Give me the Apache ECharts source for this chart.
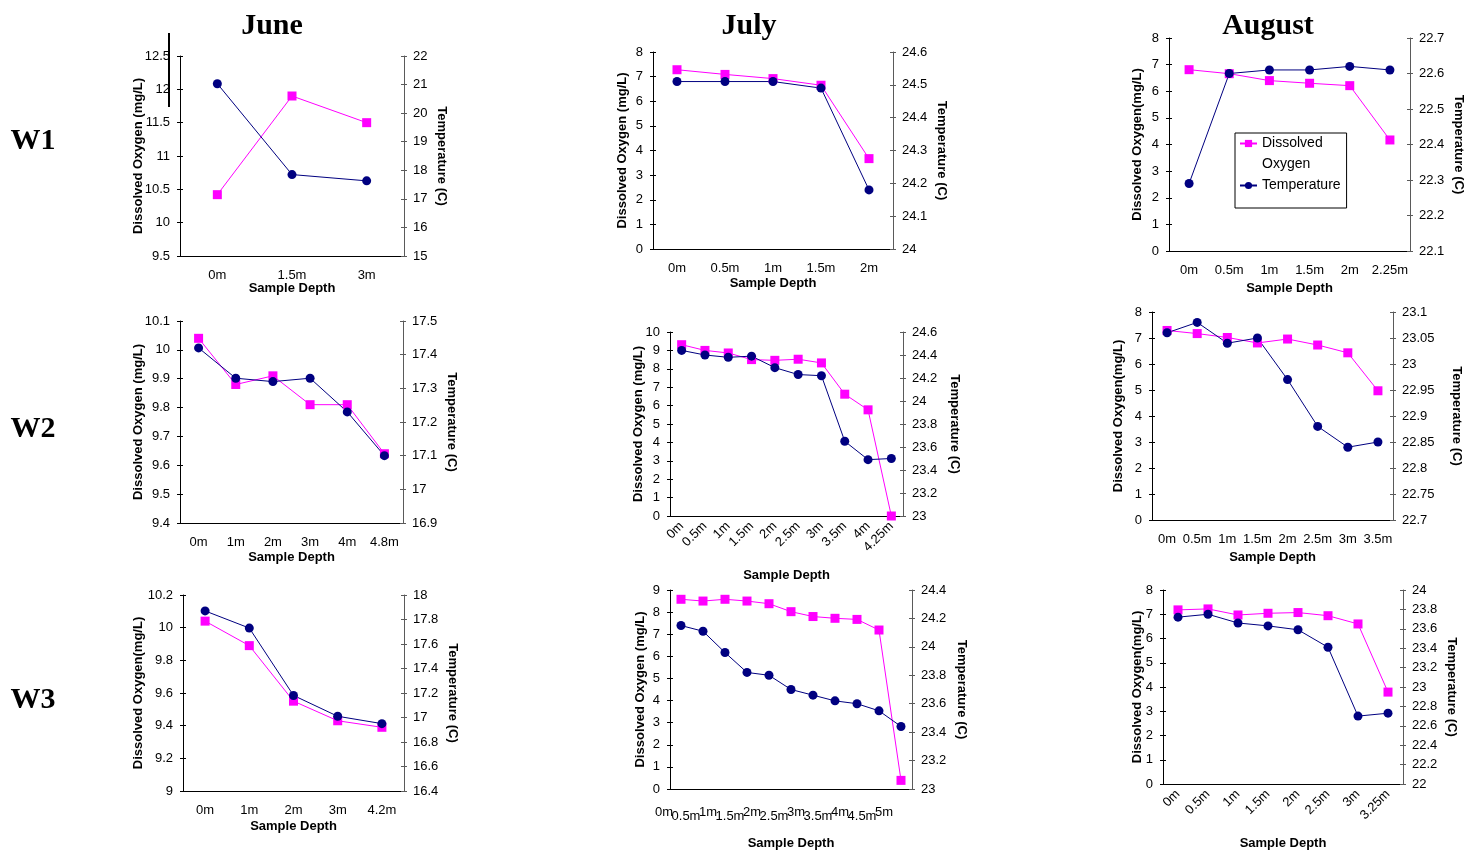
<!DOCTYPE html>
<html>
<head>
<meta charset="utf-8">
<script src="https://cdn.jsdelivr.net/npm/echarts/dist/echarts.min.js"></script>
<style>
  html, body { margin: 0; padding: 0; background: #fff; }
  #main { width: 1468px; height: 852px; }
</style>
</head>
<body>
<div id="main"></div>
<script>
// ---- June ----
const juneW1Depth = ['0m', '1.5m', '3m'];
const juneW1DO = [10.42, 11.9, 11.5];
const juneW1Temp = [21.03, 17.85, 17.63];
const juneW2Depth = ['0m', '1m', '2m', '3m', '4m', '4.8m'];
const juneW2DO = [10.04, 9.88, 9.91, 9.81, 9.81, 9.64];
const juneW2Temp = [17.42, 17.33, 17.32, 17.33, 17.23, 17.1];
const juneW3Depth = ['0m', '1m', '2m', '3m', '4.2m'];
const juneW3DO = [10.04, 9.89, 9.55, 9.43, 9.39];
const juneW3Temp = [17.87, 17.73, 17.18, 17.01, 16.95];

// ---- July ----
const julyW1Depth = ['0m', '0.5m', '1m', '1.5m', '2m'];
const julyW1DO = [7.28, 7.09, 6.92, 6.65, 3.67];
const julyW1Temp = [24.51, 24.51, 24.51, 24.49, 24.18];
const julyW2Depth = ['0m', '0.5m', '1m', '1.5m', '2m', '2.5m', '3m', '3.5m', '4m', '4.25m'];
const julyW2DO = [9.31, 9.0, 8.86, 8.5, 8.46, 8.52, 8.32, 6.62, 5.77, 0];
const julyW2Temp = [24.44, 24.40, 24.38, 24.39, 24.29, 24.23, 24.22, 23.65, 23.49, 23.50];
const julyW3Depth = ['0m', '0.5m', '1m', '1.5m', '2m', '2.5m', '3m', '3.5m', '4m', '4.5m', '5m'];
const julyW3DO = [8.58, 8.5, 8.58, 8.5, 8.38, 8.02, 7.8, 7.72, 7.67, 7.19, 0.39];
const julyW3Temp = [24.15, 24.11, 23.96, 23.82, 23.8, 23.7, 23.66, 23.62, 23.6, 23.55, 23.44];

// ---- August ----
const augW1Depth = ['0m', '0.5m', '1m', '1.5m', '2m', '2.25m'];
const augW1DO = [6.81, 6.66, 6.4, 6.3, 6.21, 4.17];
const augW1Temp = [22.29, 22.6, 22.61, 22.61, 22.62, 22.61];
const augW2Depth = ['0m', '0.5m', '1m', '1.5m', '2m', '2.5m', '3m', '3.5m'];
const augW2DO = [7.29, 7.17, 7.02, 6.81, 6.96, 6.73, 6.43, 4.97];
const augW2Temp = [23.06, 23.08, 23.04, 23.05, 22.97, 22.88, 22.84, 22.85];
const augW3Depth = ['0m', '0.5m', '1m', '1.5m', '2m', '2.5m', '3m', '3.25m'];
const augW3DO = [7.18, 7.22, 6.97, 7.04, 7.07, 6.94, 6.6, 3.79];
const augW3Temp = [23.72, 23.75, 23.66, 23.63, 23.59, 23.41, 22.7, 22.73];

// axis scales: [min, max, interval]
const juneW1DOScale = [9.5, 12.5, 0.5], juneW1TempScale = [15, 22, 1];
const juneW2DOScale = [9.4, 10.1, 0.1], juneW2TempScale = [16.9, 17.5, 0.1];
const juneW3DOScale = [9, 10.2, 0.2], juneW3TempScale = [16.4, 18, 0.2];
const julyW1DOScale = [0, 8, 1], julyW1TempScale = [24, 24.6, 0.1];
const julyW2DOScale = [0, 10, 1], julyW2TempScale = [23, 24.6, 0.2];
const julyW3DOScale = [0, 9, 1], julyW3TempScale = [23, 24.4, 0.2];
const augW1DOScale = [0, 8, 1], augW1TempScale = [22.1, 22.7, 0.1];
const augW2DOScale = [0, 8, 1], augW2TempScale = [22.7, 23.1, 0.05];
const augW3DOScale = [0, 8, 1], augW3TempScale = [22, 24, 0.2];

const DO_NAME = 'Dissolved Oxygen (mg/L)';
const DO_NAME2 = 'Dissolved Oxygen(mg/L)';

// grid: [left, top, width, height]; gaps: [left name, right name, x name]
const panels = [
  { depth: juneW1Depth, dox: juneW1DO, temp: juneW1Temp, ds: juneW1DOScale, ts: juneW1TempScale, doName: DO_NAME,
    grid: [180, 56, 224, 200], gaps: [35, 31, 26], labels: 'plain' },
  { depth: julyW1Depth, dox: julyW1DO, temp: julyW1Temp, ds: julyW1DOScale, ts: julyW1TempScale, doName: DO_NAME,
    grid: [653, 52, 240, 197], gaps: [24, 42, 28], labels: 'plain' },
  { depth: augW1Depth, dox: augW1DO, temp: augW1Temp, ds: augW1DOScale, ts: augW1TempScale, doName: DO_NAME2,
    grid: [1169, 38, 241, 213], gaps: [25, 42, 31], labels: 'plain' },
  { depth: juneW2Depth, dox: juneW2DO, temp: juneW2Temp, ds: juneW2DOScale, ts: juneW2TempScale, doName: DO_NAME,
    grid: [180, 321, 223, 202], gaps: [35, 42, 28], labels: 'plain' },
  { depth: julyW2Depth, dox: julyW2DO, temp: julyW2Temp, ds: julyW2DOScale, ts: julyW2TempScale, doName: DO_NAME,
    grid: [670, 332, 233, 184], gaps: [25, 45, 53], labels: 'rot' },
  { depth: augW2Depth, dox: augW2DO, temp: augW2Temp, ds: augW2DOScale, ts: augW2TempScale, doName: DO_NAME2,
    grid: [1152, 312, 241, 208], gaps: [27, 57, 31], labels: 'plain' },
  { depth: juneW3Depth, dox: juneW3DO, temp: juneW3Temp, ds: juneW3DOScale, ts: juneW3TempScale, doName: DO_NAME2,
    grid: [183, 595, 221, 196], gaps: [38, 42, 29], labels: 'plain' },
  { depth: julyW3Depth, dox: julyW3DO, temp: julyW3Temp, ds: julyW3DOScale, ts: julyW3TempScale, doName: DO_NAME,
    grid: [670, 590, 242, 199], gaps: [23, 43, 48], labels: 'stagger' },
  { depth: augW3Depth, dox: augW3DO, temp: augW3Temp, ds: augW3DOScale, ts: augW3TempScale, doName: DO_NAME2,
    grid: [1163, 590, 240, 194], gaps: [19, 42, 53], labels: 'rot' }
];

const font = '"Liberation Sans", Arial, sans-serif';
const serif = '"Liberation Serif", "Times New Roman", serif';
const PINK = '#ff00ff';
const NAVY = '#000080';
const RIGHT_AXIS = '#5a5a5a';
const fmt = v => String(+(+v).toFixed(3));

const nameStyle = { fontFamily: font, fontSize: 13, fontWeight: 'bold', color: '#000' };
const labelBase = { fontFamily: font, fontSize: 13, color: '#000' };

function xLabelFor(mode) {
  if (mode === 'rot') {
    return Object.assign({ interval: 0, rotate: 45, margin: 8, hideOverlap: false }, labelBase);
  }
  if (mode === 'stagger') {
    return {
      interval: 0, margin: 17, hideOverlap: false,
      formatter: (v, i) => (i % 2 ? '{b|' + v + '}' : '{a|' + v + '}'),
      rich: {
        a: Object.assign({ padding: [0, 34, 0, 0] }, labelBase),
        b: Object.assign({ padding: [4, 34, 0, 0] }, labelBase)
      }
    };
  }
  return Object.assign({ interval: 0, margin: 13, hideOverlap: false }, labelBase);
}

const grid = [], xAxis = [], yAxis = [], series = [];

panels.forEach((p, i) => {
  grid.push({ left: p.grid[0], top: p.grid[1], width: p.grid[2], height: p.grid[3],
    containLabel: false, outerBoundsMode: 'none' });

  const xi = xAxis.length;
  xAxis.push({
    type: 'category', gridIndex: i, position: 'bottom', data: p.depth,
    name: 'Sample Depth', nameLocation: 'middle', nameGap: p.gaps[2], nameTextStyle: nameStyle,
    nameMoveOverlap: false,
    axisLine: { onZero: false, lineStyle: { color: '#000', width: 1 } },
    axisTick: { length: 3, lineStyle: { color: '#000' } },
    axisLabel: xLabelFor(p.labels),
    splitLine: { show: false }
  });
  // inner half of the cross ticks
  xAxis.push({
    type: 'category', gridIndex: i, position: 'bottom', data: p.depth,
    axisLine: { show: false }, axisLabel: { show: false }, splitLine: { show: false },
    axisTick: { inside: true, length: 3, lineStyle: { color: '#000' } }
  });

  const yi = yAxis.length;
  yAxis.push({
    type: 'value', gridIndex: i, position: 'left',
    min: p.ds[0], max: p.ds[1], interval: p.ds[2],
    name: p.doName, nameLocation: 'middle', nameGap: p.gaps[0], nameTextStyle: nameStyle,
    nameMoveOverlap: false,
    axisLine: { show: true, onZero: false, lineStyle: { color: '#000', width: 1 } },
    axisTick: { show: true, length: 3, lineStyle: { color: '#000' } },
    axisLabel: Object.assign({ margin: 10, formatter: fmt }, labelBase),
    splitLine: { show: false }
  });
  yAxis.push({
    type: 'value', gridIndex: i, position: 'right',
    min: p.ts[0], max: p.ts[1], interval: p.ts[2],
    name: 'Temperature (C)', nameLocation: 'middle', nameGap: p.gaps[1], nameRotate: -90,
    nameTextStyle: nameStyle, nameMoveOverlap: false,
    axisLine: { show: true, onZero: false, lineStyle: { color: RIGHT_AXIS, width: 1 } },
    axisTick: { show: true, length: 3, lineStyle: { color: RIGHT_AXIS } },
    axisLabel: Object.assign({ margin: 9, formatter: fmt }, labelBase),
    splitLine: { show: false }
  });
  yAxis.push({
    type: 'value', gridIndex: i, position: 'left',
    min: p.ds[0], max: p.ds[1], interval: p.ds[2],
    axisLine: { show: false }, axisLabel: { show: false }, splitLine: { show: false },
    axisTick: { show: true, inside: true, length: 3, lineStyle: { color: '#000' } }
  });
  yAxis.push({
    type: 'value', gridIndex: i, position: 'right',
    min: p.ts[0], max: p.ts[1], interval: p.ts[2],
    axisLine: { show: false }, axisLabel: { show: false }, splitLine: { show: false },
    axisTick: { show: true, inside: true, length: 3, lineStyle: { color: RIGHT_AXIS } }
  });

  series.push({
    type: 'line', name: 'Dissolved Oxygen', xAxisIndex: xi, yAxisIndex: yi,
    data: p.dox, symbol: 'rect', symbolSize: 9,
    itemStyle: { color: PINK }, lineStyle: { color: PINK, width: 1 }
  });
  series.push({
    type: 'line', name: 'Temperature', xAxisIndex: xi, yAxisIndex: yi + 1,
    data: p.temp, symbol: 'circle', symbolSize: 9,
    itemStyle: { color: NAVY }, lineStyle: { color: NAVY, width: 1 }
  });
});

const headText = (text, x, y) => ({
  type: 'text', x: x, y: y,
  style: { text: text, fontFamily: serif, fontSize: 30, fontWeight: 'bold', fill: '#000',
    align: 'center', verticalAlign: 'middle' }
});

const chart = echarts.init(document.getElementById('main'));
chart.setOption({
  animation: false,
  backgroundColor: '#fff',
  grid: grid,
  xAxis: xAxis,
  yAxis: yAxis,
  series: series,
  legend: {
    left: 1235, top: 133, orient: 'vertical',
    data: ['Dissolved Oxygen', 'Temperature'],
    // blank first line keeps the marker level with "Dissolved"
    formatter: n => (n === 'Dissolved Oxygen' ? ' \nDissolved\nOxygen' : n),
    selectedMode: false,
    borderColor: '#000', borderWidth: 1, borderRadius: 0,
    padding: [-21, 6, 12, 4], itemGap: 0, itemWidth: 17, itemHeight: 9,
    textStyle: { fontFamily: font, fontSize: 14, color: '#000', lineHeight: 21 }
  },
  graphic: [
    headText('June', 272, 26),
    headText('July', 749, 26),
    headText('August', 1268, 26),
    headText('W1', 33, 141),
    headText('W2', 33, 429),
    headText('W3', 33, 700),
    { type: 'line', shape: { x1: 169, y1: 33, x2: 169, y2: 107 }, style: { stroke: '#000', lineWidth: 2 } }
  ]
});
</script>
</body>
</html>
